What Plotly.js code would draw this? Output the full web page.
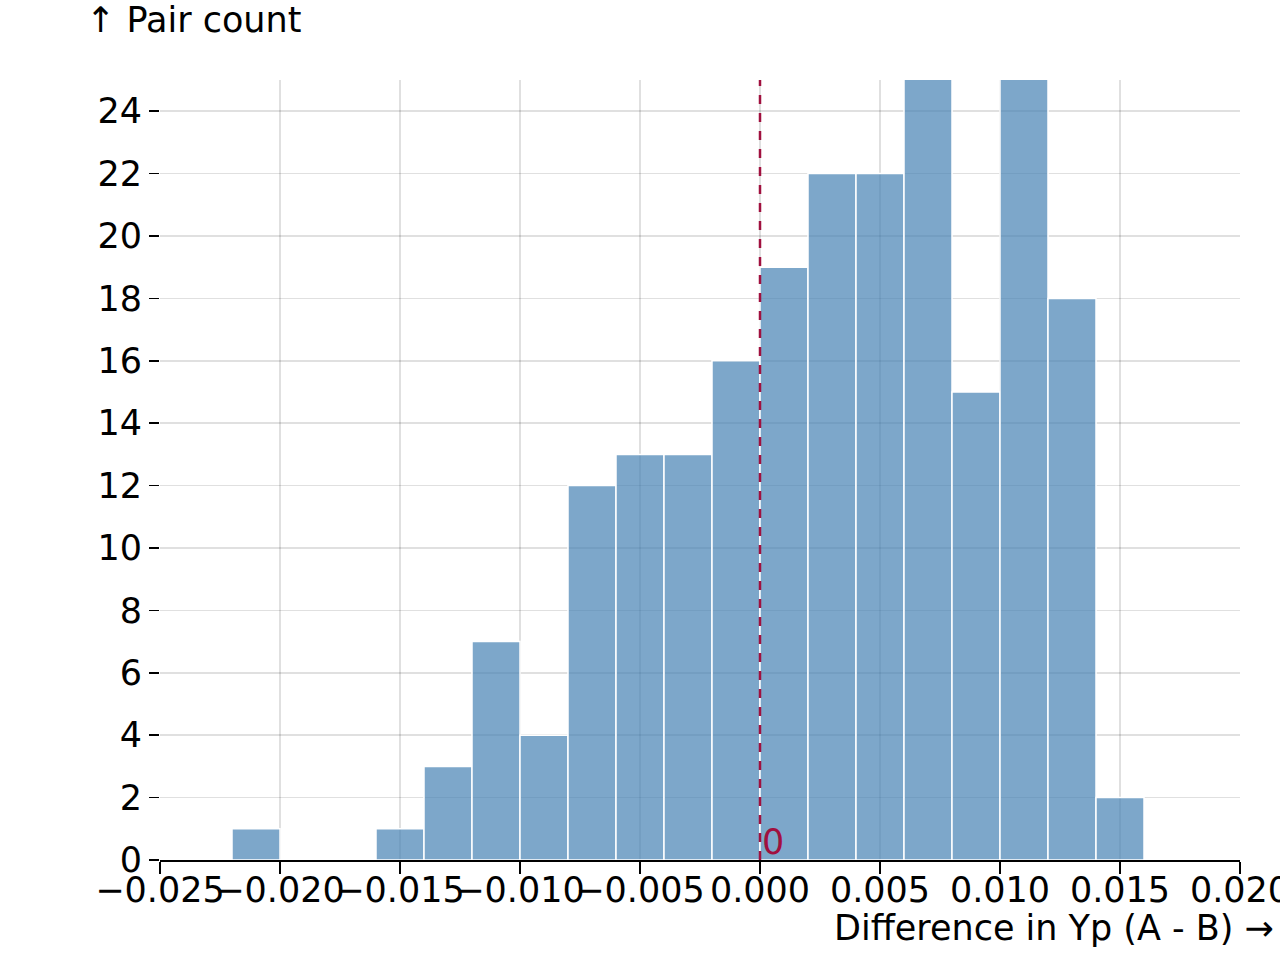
<!DOCTYPE html>
<html>
<head>
<meta charset="utf-8">
<script src="https://cdn.plot.ly/plotly-3.0.1.min.js"></script>
<style>
  html, body { margin: 0; padding: 0; background: #fff; }
  #graph { width: 1280px; height: 960px; }
</style>
</head>
<body>
<div id="graph"></div>
<script>
// left edge of each 0.002-wide bin and the pair count in it
const binWidth = 0.002;
const binStarts = [-0.022, -0.020, -0.018, -0.016, -0.014, -0.012, -0.010, -0.008, -0.006,
  -0.004, -0.002, 0.000, 0.002, 0.004, 0.006, 0.008, 0.010, 0.012, 0.014];
const pairCounts = [1, 0, 0, 1, 3, 7, 4, 12, 13, 13, 16, 19, 22, 22, 26, 15, 27, 18, 2];

const xTicks = [-0.025, -0.020, -0.015, -0.010, -0.005, 0.000, 0.005, 0.010, 0.015, 0.020];
const yTicks = [0, 2, 4, 6, 8, 10, 12, 14, 16, 18, 20, 22, 24];
const refValue = 0;

const FONT = 'DejaVu Sans, sans-serif';
const FS = 35;
const RED = '#a0103f';

const bars = {
  type: 'bar',
  x: binStarts,
  y: pairCounts,
  width: binWidth,
  offset: 0,
  marker: {
    color: 'rgba(70,130,180,0.7)',
    line: { color: '#ffffff', width: 1.5 }
  },
  hoverinfo: 'x+y'
};

const layout = {
  width: 1280,
  height: 960,
  margin: { l: 160, r: 40, t: 80, b: 100, pad: 0 },
  paper_bgcolor: '#fff',
  plot_bgcolor: '#fff',
  showlegend: false,
  font: { family: FONT, size: FS, color: '#000' },
  xaxis: {
    range: [-0.025, 0.0200001],
    tickvals: xTicks,
    tickformat: '.3f',
    tickangle: 0,
    ticks: 'outside',
    ticklen: 12,
    tickwidth: 2,
    tickcolor: '#000',
    ticklabelstandoff: -14,
    ticklabeloverflow: 'allow',
    showline: true,
    linecolor: '#000',
    linewidth: 2,
    showgrid: true,
    gridcolor: 'rgba(0,0,0,0.12)',
    gridwidth: 1.5,
    zeroline: false,
    tickfont: { family: FONT, size: FS }
  },
  yaxis: {
    range: [0, 25],
    tickvals: yTicks,
    ticks: 'outside',
    ticklen: 10,
    tickwidth: 1.5,
    tickcolor: '#000',
    showline: false,
    showgrid: true,
    gridcolor: 'rgba(0,0,0,0.12)',
    gridwidth: 1.5,
    zeroline: false,
    tickfont: { family: FONT, size: FS }
  },
  shapes: [{
    type: 'line',
    xref: 'x', yref: 'paper',
    x0: refValue, x1: refValue, y0: 0, y1: 1,
    line: { color: RED, width: 2.5, dash: 'dash' }
  }],
  annotations: [
    {
      text: '↑ Pair count',
      xref: 'paper', yref: 'paper',
      x: -0.07, y: 1.0, yshift: 82,
      xanchor: 'left', yanchor: 'top',
      showarrow: false,
      font: { family: FONT, size: FS }
    },
    {
      text: 'Difference in Yp (A - B) →',
      xref: 'paper', yref: 'paper',
      x: 1.0, y: 0, xshift: 36, yshift: -46,
      xanchor: 'right', yanchor: 'top',
      showarrow: false,
      font: { family: FONT, size: FS }
    },
    {
      text: String(refValue),
      xref: 'x', yref: 'paper',
      x: refValue, y: 0,
      xanchor: 'left', yanchor: 'bottom',
      yshift: -4,
      showarrow: false,
      font: { family: FONT, size: FS, color: RED }
    }
  ]
};

Plotly.newPlot('graph', [bars], layout, { displayModeBar: false, staticPlot: true });
</script>
</body>
</html>
